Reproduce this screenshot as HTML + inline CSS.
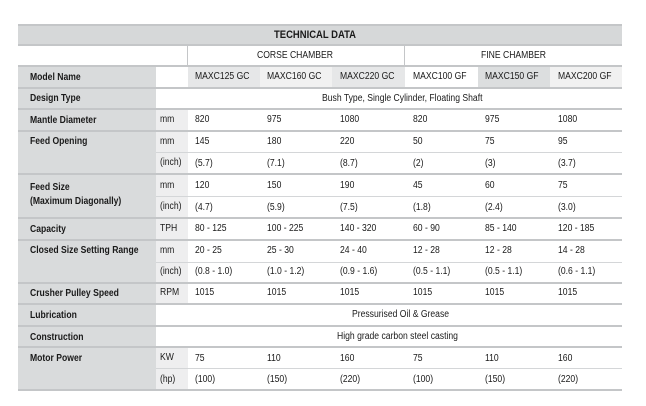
<!DOCTYPE html>
<html><head><meta charset="utf-8"><style>
body{margin:0;width:646px;height:406px;background:#fff;position:relative;overflow:hidden;font-family:"Liberation Sans",sans-serif;font-size:10px;color:#1a1a1a}
.a{position:absolute;box-sizing:border-box}
.t{position:absolute;white-space:nowrap;line-height:12px;transform:scaleX(.86);transform-origin:0 0}
.b{font-weight:bold}
.h{position:absolute;left:18px;width:604px;height:2px;background:#c4c6c8}
.s{position:absolute;left:156px;width:466px;height:1px;background:#d4d6d8}
</style></head><body>
<div class="a" style="left:18px;top:25px;width:604px;height:20px;background:#d6d8d9"></div>
<div class="a" style="left:18px;top:65px;width:138px;height:325px;background:#d9dbdc"></div>
<div class="a" style="left:156px;top:108px;width:32px;height:282px;background:#eeeeef"></div>
<div class="a" style="left:156px;top:88px;width:466px;height:20px;background:#fff"></div>
<div class="a" style="left:156px;top:305px;width:466px;height:43px;background:#fff"></div>
<div class="a" style="left:188px;top:66px;width:72px;height:21px;background:#e6e7e8"></div>
<div class="a" style="left:260px;top:66px;width:72px;height:21px;background:#f1f1f1"></div>
<div class="a" style="left:332px;top:66px;width:73px;height:21px;background:#e6e7e8"></div>
<div class="a" style="left:478px;top:66px;width:72px;height:21px;background:#dcdedf"></div>
<div class="a" style="left:550px;top:66px;width:72px;height:21px;background:#f1f1f1"></div>
<div class="a" style="left:187px;top:45px;width:1px;height:21px;background:#c4c6c8"></div>
<div class="a" style="left:404px;top:45px;width:1px;height:21px;background:#c4c6c8"></div>
<div class="h" style="top:24px"></div>
<div class="h" style="top:44px"></div>
<div class="h" style="top:65px"></div>
<div class="h" style="top:87px"></div>
<div class="h" style="top:108px"></div>
<div class="h" style="top:130px"></div>
<div class="s" style="top:152px"></div>
<div class="h" style="top:173px"></div>
<div class="s" style="top:196px"></div>
<div class="h" style="top:217px"></div>
<div class="h" style="top:239px"></div>
<div class="s" style="top:262px"></div>
<div class="h" style="top:282px"></div>
<div class="h" style="top:303px"></div>
<div class="h" style="top:325px"></div>
<div class="h" style="top:346px"></div>
<div class="s" style="top:368px"></div>
<div class="h" style="top:389px"></div>

<div class="t b" style="left:274px;top:29px;font-size:11px">TECHNICAL DATA</div>
<div class="t" style="left:257px;top:50px">CORSE CHAMBER</div>
<div class="t" style="left:481px;top:50px">FINE CHAMBER</div>

<div class="t b" style="left:30px;top:72px">Model Name</div>
<div class="t" style="left:195px;top:71px">MAXC125 GC</div>
<div class="t" style="left:267px;top:71px">MAXC160 GC</div>
<div class="t" style="left:340px;top:71px">MAXC220 GC</div>
<div class="t" style="left:413px;top:71px">MAXC100 GF</div>
<div class="t" style="left:485px;top:71px">MAXC150 GF</div>
<div class="t" style="left:558px;top:71px">MAXC200 GF</div>

<div class="t b" style="left:30px;top:93px">Design Type</div>
<div class="t" style="left:322px;top:93px">Bush Type, Single Cylinder, Floating Shaft</div>

<div class="t b" style="left:30px;top:115px">Mantle Diameter</div>
<div class="t" style="left:160px;top:114px">mm</div>
<div class="t" style="left:195px;top:114px">820</div><div class="t" style="left:267px;top:114px">975</div><div class="t" style="left:340px;top:114px">1080</div><div class="t" style="left:413px;top:114px">820</div><div class="t" style="left:485px;top:114px">975</div><div class="t" style="left:558px;top:114px">1080</div>

<div class="t b" style="left:30px;top:136px">Feed Opening</div>
<div class="t" style="left:160px;top:136px">mm</div>
<div class="t" style="left:195px;top:136px">145</div><div class="t" style="left:267px;top:136px">180</div><div class="t" style="left:340px;top:136px">220</div><div class="t" style="left:413px;top:136px">50</div><div class="t" style="left:485px;top:136px">75</div><div class="t" style="left:558px;top:136px">95</div>
<div class="t" style="left:160px;top:157px">(inch)</div>
<div class="t" style="left:195px;top:158px">(5.7)</div><div class="t" style="left:267px;top:158px">(7.1)</div><div class="t" style="left:340px;top:158px">(8.7)</div><div class="t" style="left:413px;top:158px">(2)</div><div class="t" style="left:485px;top:158px">(3)</div><div class="t" style="left:558px;top:158px">(3.7)</div>

<div class="t b" style="left:30px;top:182px">Feed Size</div>
<div class="t b" style="left:30px;top:196px">(Maximum Diagonally)</div>
<div class="t" style="left:160px;top:180px">mm</div>
<div class="t" style="left:195px;top:180px">120</div><div class="t" style="left:267px;top:180px">150</div><div class="t" style="left:340px;top:180px">190</div><div class="t" style="left:413px;top:180px">45</div><div class="t" style="left:485px;top:180px">60</div><div class="t" style="left:558px;top:180px">75</div>
<div class="t" style="left:160px;top:201px">(inch)</div>
<div class="t" style="left:195px;top:202px">(4.7)</div><div class="t" style="left:267px;top:202px">(5.9)</div><div class="t" style="left:340px;top:202px">(7.5)</div><div class="t" style="left:413px;top:202px">(1.8)</div><div class="t" style="left:485px;top:202px">(2.4)</div><div class="t" style="left:558px;top:202px">(3.0)</div>

<div class="t b" style="left:30px;top:224px">Capacity</div>
<div class="t" style="left:160px;top:223px">TPH</div>
<div class="t" style="left:195px;top:223px">80 - 125</div><div class="t" style="left:267px;top:223px">100 - 225</div><div class="t" style="left:340px;top:223px">140 - 320</div><div class="t" style="left:413px;top:223px">60 - 90</div><div class="t" style="left:485px;top:223px">85 - 140</div><div class="t" style="left:558px;top:223px">120 - 185</div>

<div class="t b" style="left:30px;top:245px">Closed Size Setting Range</div>
<div class="t" style="left:160px;top:245px">mm</div>
<div class="t" style="left:195px;top:245px">20 - 25</div><div class="t" style="left:267px;top:245px">25 - 30</div><div class="t" style="left:340px;top:245px">24 - 40</div><div class="t" style="left:413px;top:245px">12 - 28</div><div class="t" style="left:485px;top:245px">12 - 28</div><div class="t" style="left:558px;top:245px">14 - 28</div>
<div class="t" style="left:160px;top:266px">(inch)</div>
<div class="t" style="left:195px;top:266px">(0.8 - 1.0)</div><div class="t" style="left:267px;top:266px">(1.0 - 1.2)</div><div class="t" style="left:340px;top:266px">(0.9 - 1.6)</div><div class="t" style="left:413px;top:266px">(0.5 - 1.1)</div><div class="t" style="left:485px;top:266px">(0.5 - 1.1)</div><div class="t" style="left:558px;top:266px">(0.6 - 1.1)</div>

<div class="t b" style="left:30px;top:288px">Crusher Pulley Speed</div>
<div class="t" style="left:160px;top:287px">RPM</div>
<div class="t" style="left:195px;top:287px">1015</div><div class="t" style="left:267px;top:287px">1015</div><div class="t" style="left:340px;top:287px">1015</div><div class="t" style="left:413px;top:287px">1015</div><div class="t" style="left:485px;top:287px">1015</div><div class="t" style="left:558px;top:287px">1015</div>

<div class="t b" style="left:30px;top:310px">Lubrication</div>
<div class="t" style="left:352px;top:309px">Pressurised Oil &amp; Grease</div>
<div class="t b" style="left:30px;top:332px">Construction</div>
<div class="t" style="left:337px;top:331px">High grade carbon steel casting</div>

<div class="t b" style="left:30px;top:353px">Motor Power</div>
<div class="t" style="left:160px;top:352px">KW</div>
<div class="t" style="left:195px;top:353px">75</div><div class="t" style="left:267px;top:353px">110</div><div class="t" style="left:340px;top:353px">160</div><div class="t" style="left:413px;top:353px">75</div><div class="t" style="left:485px;top:353px">110</div><div class="t" style="left:558px;top:353px">160</div>
<div class="t" style="left:160px;top:374px">(hp)</div>
<div class="t" style="left:195px;top:374px">(100)</div><div class="t" style="left:267px;top:374px">(150)</div><div class="t" style="left:340px;top:374px">(220)</div><div class="t" style="left:413px;top:374px">(100)</div><div class="t" style="left:485px;top:374px">(150)</div><div class="t" style="left:558px;top:374px">(220)</div>
</body></html>
